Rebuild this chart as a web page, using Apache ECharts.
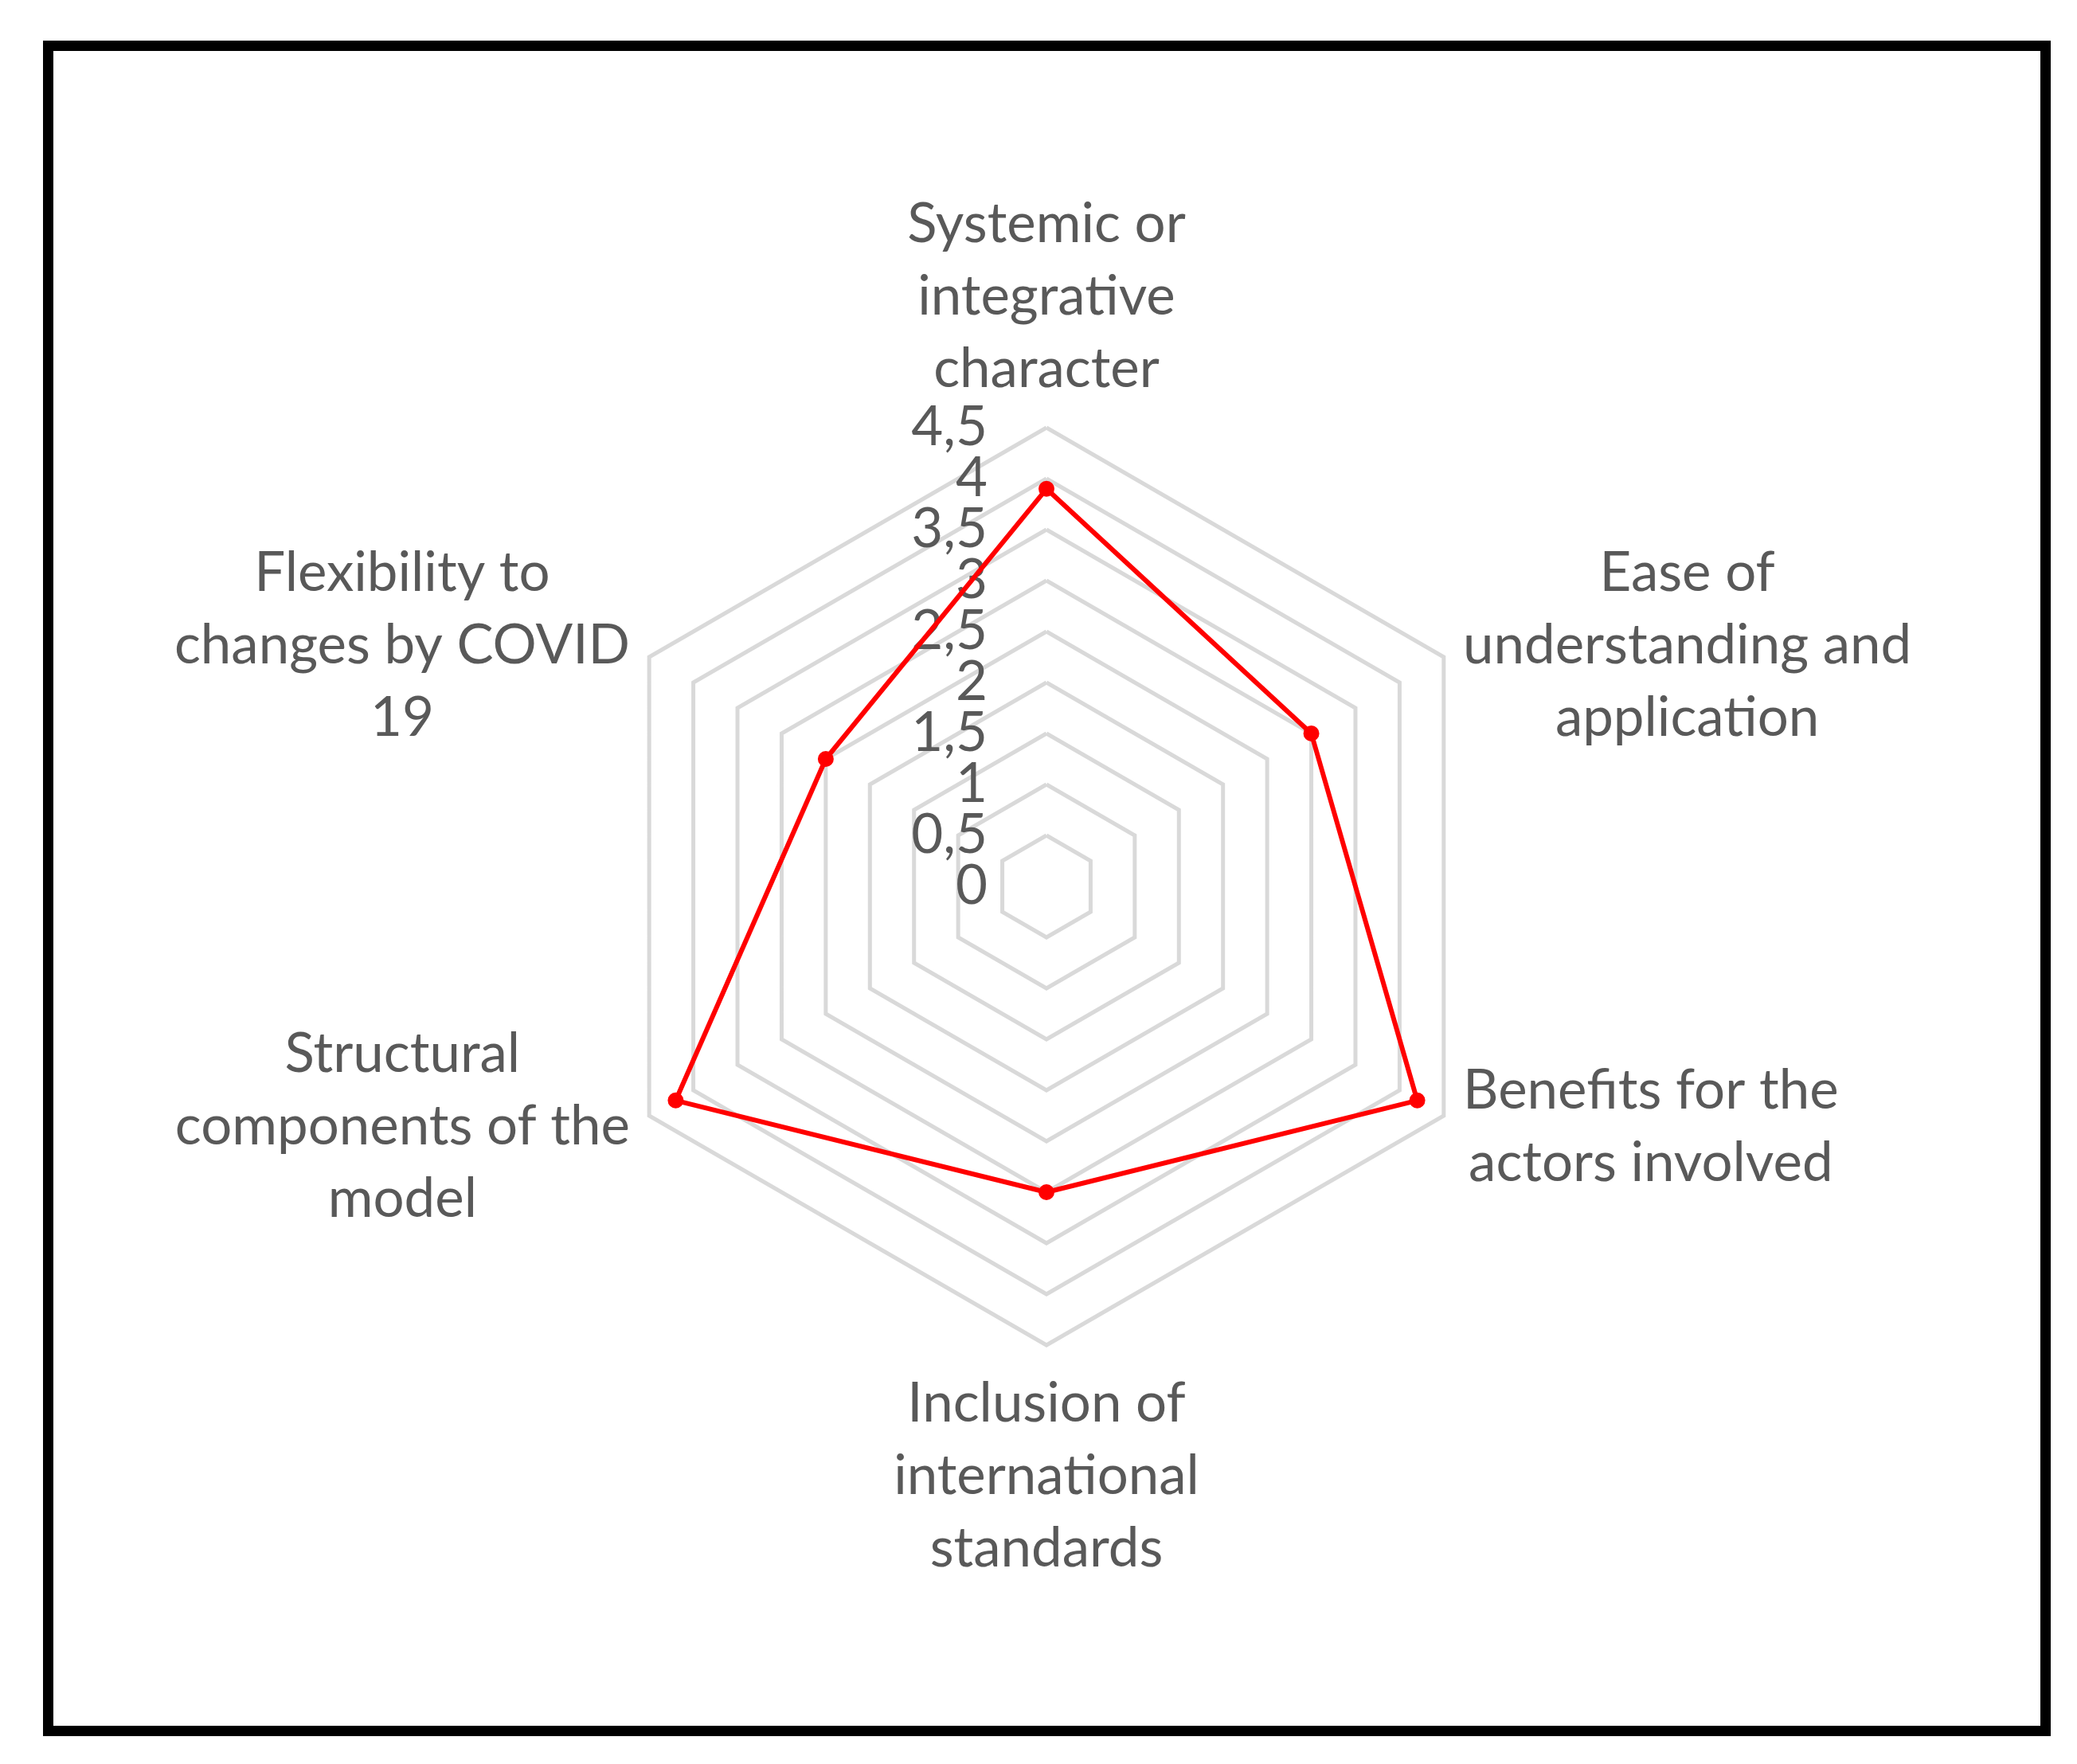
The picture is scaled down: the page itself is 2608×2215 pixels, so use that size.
<!DOCTYPE html>
<html>
<head>
<meta charset="utf-8">
<title>Radar</title>
<script src="https://cdn.jsdelivr.net/npm/echarts@6/dist/echarts.min.js"></script>
<style>
html, body { margin: 0; padding: 0; background: #fff; }
#frame {
  position: absolute; left: 54px; top: 51px;
  width: 2521px; height: 2129px;
  box-sizing: border-box; border: 13px solid #000;
}
#chart { position: absolute; left: 0; top: 0; width: 2608px; height: 2215px; }
</style>
</head>
<body>
<div id="frame"></div>
<div id="chart"></div>
<script>
// categories, clockwise from the top
const categories = [
  "Systemic or\nintegrative\ncharacter",
  "Ease of\nunderstanding and\napplication",
  "Benefits for the\nactors involved",
  "Inclusion of\ninternational\nstandards",
  "Structural\ncomponents of the\nmodel",
  "Flexibility to\nchanges by COVID\n19",
]
const scores = [3.9, 3, 4.2, 3, 4.2, 2.5]
const ticks = [0, 0.5, 1, 1.5, 2, 2.5, 3, 3.5, 4, 4.5]

const textColor = "#595959"
const font = "Lato"
const fontSize = 69

// echarts lays indicators out counter-clockwise, so keep the first and reverse the rest
const order = [0, 5, 4, 3, 2, 1]
const maxVal = ticks[ticks.length - 1]
const fmt = (v) => String(v).replace(".", ",")

const indicators = order.map((i, k) => ({
  name: categories[i],
  min: ticks[0],
  max: maxVal,
  axisLabel: { show: k === 0 },
}))

const labelStyle = {
  show: false,
  hideOverlap: false,
  color: textColor,
  fontFamily: font,
  fontSize: fontSize,
  margin: 74,
}

const chart = echarts.init(document.getElementById("chart"))
const option = {
  animation: false,
  radar: [
    {
      center: [1314, 1113],
      radius: 576,
      startAngle: 90,
      shape: "polygon",
      splitNumber: ticks.length - 1,
      indicator: indicators,
      axisName: {
        color: textColor,
        fontFamily: font,
        fontSize: fontSize,
        formatter: (name) => name.split("\n").map((l) => "{c|" + l + "}").join("\n"),
        rich: {
          c: {
            align: "center",
            color: textColor,
            fontFamily: font,
            fontSize: fontSize,
            lineHeight: 91,
          },
        },
      },
      nameGap: 28,
      axisLine: { show: false },
      axisTick: { show: false },
      axisLabel: Object.assign({}, labelStyle, {
        showMinLabel: true,
        showMaxLabel: true,
        formatter: fmt,
      }),
      splitLine: { lineStyle: { color: "#d9d9d9", width: 5 } },
      splitArea: { show: false },
    },
    {
      // same geometry, only fills in the labels next to min/max that echarts drops
      center: [1314, 1113],
      radius: 576,
      startAngle: 90,
      shape: "polygon",
      splitNumber: ticks.length - 1,
      indicator: indicators,
      axisName: { show: false },
      axisLine: { show: false },
      axisTick: { show: false },
      axisLabel: Object.assign({}, labelStyle, {
        showMinLabel: false,
        showMaxLabel: false,
        formatter: (v) => (v === ticks[1] || v === ticks[ticks.length - 2] ? fmt(v) : ""),
      }),
      splitLine: { show: false },
      splitArea: { show: false },
    },
  ],
  series: [
    {
      type: "radar",
      radarIndex: 0,
      symbol: "circle",
      symbolSize: 20,
      lineStyle: { color: "#ff0000", width: 6 },
      itemStyle: { color: "#ff0000" },
      data: [{ value: order.map((i) => scores[i]), name: "Score" }],
    },
  ],
}
chart.setOption(option)
</script>
</body>
</html>
